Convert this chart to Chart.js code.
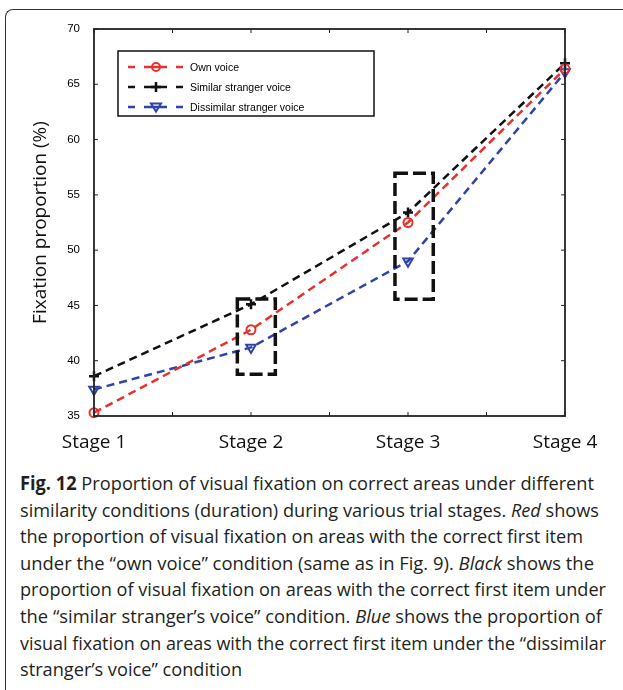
<!DOCTYPE html>
<html>
<head>
<meta charset="utf-8">
<script src="https://cdn.jsdelivr.net/npm/chart.js@4.4.1/dist/chart.umd.min.js"></script>
<style>
  body { margin: 0; background: #fff; width: 623px; height: 690px; overflow: hidden; position: relative; }
  #frame { position: absolute; left: 5px; top: 9px; width: 700px; height: 800px;
    border-left: 1.5px solid #333; border-top: 1.5px solid #333; border-top-left-radius: 8px; }
  #chartBox { position: absolute; left: 0; top: 0; width: 623px; height: 462px; }
  #caption { position: absolute; left: 20px; top: 470px; font-family: "Open Sans", sans-serif;
    font-size: 19px; line-height: 26.6px; color: #231f20; }
  #caption div { white-space: nowrap; transform-origin: 0 50%; width: max-content; }
</style>
</head>
<body>
<div id="frame"></div>
<div id="chartBox"><canvas id="fixChart" width="623" height="462"></canvas></div>
<div id="caption">
  <div data-right="594"><b>Fig. 12</b> Proportion of visual fixation on correct areas under different</div>
  <div data-right="599">similarity conditions (duration) during various trial stages. <i>Red</i> shows</div>
  <div data-right="583">the proportion of visual fixation on areas with the correct first item</div>
  <div data-right="594">under the “own voice” condition (same as in Fig. 9). <i>Black</i> shows the</div>
  <div data-right="606">proportion of visual fixation on areas with the correct first item under</div>
  <div data-right="602">the “similar stranger’s voice” condition. <i>Blue</i> shows the proportion of</div>
  <div data-right="606">visual fixation on areas with the correct first item under the “dissimilar</div>
  <div>stranger’s voice” condition</div>
</div>
<script>
// Stage labels and positions on the x axis
const stages = ["Stage 1", "Stage 2", "Stage 3", "Stage 4"];
const stageX = [1, 2, 3, 4];
// Fixation proportion (%)
const ownVoice = [35.3, 42.8, 52.5, 66.4];
const similarVoice = [38.6, 45.1, 53.4, 66.9];
const dissimilarVoice = [37.4, 41.2, 49.0, 66.1];
// y axis ticks
const yTicks = [35, 40, 45, 50, 55, 60, 65, 70];
// Dashed highlight boxes (in data units)
const boxX0 = [1.913, 2.917];
const boxX1 = [2.155, 3.161];
const boxY0 = [38.77, 45.55];
const boxY1 = [45.58, 56.95];

const seriesNames = ["Own voice", "Similar stranger voice", "Dissimilar stranger voice"];
const seriesColors = ["#e5322d", "#111111", "#2f43a8"];

function toPoints(values) {
  return values.map((v, i) => ({ x: stageX[i], y: v }));
}

// draws one marker, used by the legend
function drawMarker(ctx, idx, x, y) {
  ctx.save();
  ctx.setLineDash([]);
  ctx.strokeStyle = seriesColors[idx];
  ctx.beginPath();
  if (idx === 0) {
    ctx.lineWidth = 2;
    ctx.arc(x, y, 4, 0, Math.PI * 2);
  } else if (idx === 1) {
    ctx.lineWidth = 2.5;
    ctx.moveTo(x - 5, y); ctx.lineTo(x + 5, y);
    ctx.moveTo(x, y - 5); ctx.lineTo(x, y + 5);
  } else {
    ctx.lineWidth = 2;
    ctx.moveTo(x - 5, y - 3.5); ctx.lineTo(x + 5, y - 3.5); ctx.lineTo(x, y + 4.5); ctx.closePath();
  }
  ctx.stroke();
  ctx.restore();
}

// box frame with inward ticks, highlight boxes and the legend
const decorations = {
  id: "decorations",
  afterDatasetsDraw(chart) {
    const ctx = chart.ctx;
    const xs = chart.scales.x, ys = chart.scales.y;
    const a = chart.chartArea;
    ctx.save();
    // highlight boxes
    ctx.strokeStyle = "#111";
    ctx.lineWidth = 3.5;
    ctx.setLineDash([13, 5]);
    for (let i = 0; i < boxX0.length; i++) {
      const l = xs.getPixelForValue(boxX0[i]), r = xs.getPixelForValue(boxX1[i]);
      const t = ys.getPixelForValue(boxY1[i]), b = ys.getPixelForValue(boxY0[i]);
      ctx.strokeRect(l, t, r - l, b - t);
    }
    // plot frame
    ctx.setLineDash([]);
    ctx.strokeStyle = "#222";
    ctx.lineWidth = 1.8;
    ctx.strokeRect(a.left, a.top, a.right - a.left, a.bottom - a.top);
    ctx.lineWidth = 1;
    ctx.beginPath();
    for (let v = 1; v <= 4; v += 0.5) {
      const px = xs.getPixelForValue(v);
      ctx.moveTo(px, a.bottom); ctx.lineTo(px, a.bottom - 4);
      ctx.moveTo(px, a.top); ctx.lineTo(px, a.top + 4);
    }
    yTicks.forEach((v) => {
      const py = ys.getPixelForValue(v);
      ctx.moveTo(a.left, py); ctx.lineTo(a.left + 4, py);
      ctx.moveTo(a.right, py); ctx.lineTo(a.right - 4, py);
    });
    ctx.stroke();
    // legend
    const lx = 118, ly = 51, lw = 256, lh = 65;
    ctx.fillStyle = "#fff";
    ctx.fillRect(lx, ly, lw, lh);
    ctx.strokeStyle = "#111";
    ctx.lineWidth = 1.5;
    ctx.strokeRect(lx, ly, lw, lh);
    ctx.font = "10.5px 'Liberation Sans', Arial, sans-serif";
    ctx.textBaseline = "middle";
    seriesNames.forEach((name, i) => {
      const y = 67 + i * 20;
      ctx.strokeStyle = seriesColors[i];
      ctx.lineWidth = 2.5;
      ctx.setLineDash([7, 9, 23, 9]);
      ctx.beginPath();
      ctx.moveTo(128, y); ctx.lineTo(184, y);
      ctx.stroke();
      drawMarker(ctx, i, 156, y);
      ctx.fillStyle = "#000";
      ctx.fillText(name, 190, y + 1);
    });
    ctx.restore();
  },
};

const ctx = document.getElementById("fixChart").getContext("2d");
new Chart(ctx, {
  type: "line",
  data: {
    datasets: [
      {
        label: seriesNames[0],
        data: toPoints(ownVoice),
        borderColor: seriesColors[0],
        borderWidth: 2.5,
        borderDash: [8, 5],
        pointStyle: "circle",
        pointRadius: 4.5,
        pointBorderWidth: 2,
        pointBorderColor: seriesColors[0],
        pointBackgroundColor: "rgba(255,255,255,0)",
        clip: false,
      },
      {
        label: seriesNames[1],
        data: toPoints(similarVoice),
        borderColor: seriesColors[1],
        borderWidth: 2.5,
        borderDash: [8, 5],
        pointStyle: "cross",
        pointRadius: 5,
        pointBorderWidth: 2.5,
        pointBorderColor: seriesColors[1],
        clip: false,
      },
      {
        label: seriesNames[2],
        data: toPoints(dissimilarVoice),
        borderColor: seriesColors[2],
        borderWidth: 2.5,
        borderDash: [8, 5],
        pointStyle: "triangle",
        pointRotation: 180,
        pointRadius: 5.5,
        pointBorderWidth: 2,
        pointBorderColor: seriesColors[2],
        pointBackgroundColor: "rgba(255,255,255,0)",
        clip: false,
      },
    ],
  },
  options: {
    responsive: false,
    animation: false,
    devicePixelRatio: 1,
    layout: { padding: { top: 29, right: 58, left: 0, bottom: 0 } },
    plugins: { legend: { display: false }, tooltip: { enabled: false } },
    scales: {
      x: {
        type: "linear",
        min: 1,
        max: 4,
        grid: { display: false, drawTicks: false },
        border: { display: false },
        ticks: {
          stepSize: 0.5,
          autoSkip: false,
          maxRotation: 0,
          padding: 15,
          color: "#111",
          font: { family: "'Open Sans', sans-serif", size: 19 },
          callback: (v) => (Number.isInteger(v) ? stages[v - 1] : ""),
        },
        afterFit: (scale) => { scale.height = 46; },
      },
      y: {
        min: 35,
        max: 70,
        grid: { display: false, drawTicks: false },
        border: { display: false },
        ticks: {
          stepSize: 5,
          padding: 14,
          color: "#000",
          font: { family: "'Liberation Sans', Arial, sans-serif", size: 11.5 },
        },
        title: {
          display: true,
          text: "Fixation proportion (%)",
          color: "#111",
          font: { family: "'Open Sans', sans-serif", size: 19 },
          padding: { top: 29, bottom: 0 },
        },
        afterFit: (scale) => { scale.width = 94; },
      },
    },
  },
  plugins: [decorations],
});

// squeeze each caption line to the width it has in the figure
const lines = Array.from(document.querySelectorAll("#caption div"));
let scaleSum = 0, scaleCount = 0;
lines.forEach((line) => {
  if (!line.dataset.right) return;
  const s = (Number(line.dataset.right) - 20) / line.getBoundingClientRect().width;
  scaleSum += s; scaleCount++;
  line.style.transform = "scaleX(" + s.toFixed(4) + ")";
});
lines.forEach((line) => {
  if (!line.dataset.right) line.style.transform = "scaleX(" + (scaleSum / scaleCount).toFixed(4) + ")";
});
</script>
</body>
</html>
